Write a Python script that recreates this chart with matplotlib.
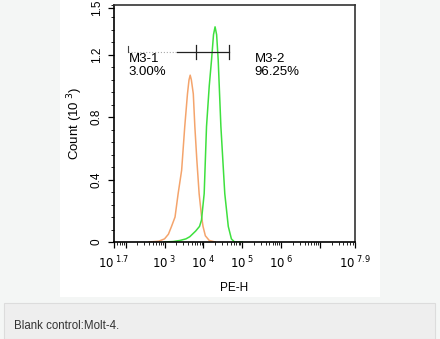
import numpy as np
import matplotlib.pyplot as plt
from matplotlib.patches import Rectangle
from matplotlib.ticker import MultipleLocator, LogLocator, NullFormatter

plt.rcParams['font.family'] = ['Liberation Sans', 'DejaVu Sans']

# histogram outlines (log10 of PE-H, count in 10^3)
blank_log = [2.6, 2.85, 3.0, 3.1, 3.18, 3.27, 3.35, 3.44, 3.52, 3.59, 3.63, 3.66,
             3.69, 3.74, 3.78, 3.83, 3.89, 3.95, 3.99, 4.05, 4.15, 4.3]
blank_count = [0, 0.005, 0.02, 0.05, 0.1, 0.16, 0.31, 0.46, 0.74, 0.95, 1.04, 1.07,
               1.04, 0.95, 0.74, 0.53, 0.31, 0.17, 0.1, 0.04, 0.01, 0]

stain_log = [3.0, 3.22, 3.4, 3.55, 3.65, 3.8, 3.9, 3.95, 4.02, 4.08, 4.15, 4.21,
             4.26, 4.30, 4.34, 4.38, 4.45, 4.55, 4.64, 4.72, 4.8, 5.0]
stain_count = [0, 0.003, 0.01, 0.02, 0.034, 0.07, 0.1, 0.14, 0.31, 0.74, 1.0, 1.17,
               1.33, 1.38, 1.33, 1.17, 0.74, 0.31, 0.1, 0.02, 0, 0]

# gate markers (log10 positions) and their labels
gate_left, gate_mid, gate_right = 2.06, 3.81, 4.66
gate_y = 1.22
gate_names = ['M3-1', 'M3-2']
gate_pcts = ['3.00%', '96.25%']

xtick_exp = [1.7, 2, 3, 4, 5, 6, 7, 7.9]
xtick_lbl = ['$10^{\\ 1.7}$', '', '$10^{\\ 3}$', '$10^{\\ 4}$', '$10^{\\ 5}$',
             '$10^{\\ 6}$', '', '$10^{\\ 7.9}$']
ytick_vals = [0, 0.4, 0.8, 1.2, 1.5]
ytick_lbl = ['0', '0.4', '0.8', '1.2', '1.5']

W, H = 440, 339
fig = plt.figure(figsize=(W / 100, H / 100), dpi=100, facecolor='#f4f6f5')

# white panel and caption strip
fig.patches.append(Rectangle((60 / W, 1 - 297 / H), 320 / W, 297 / H,
                             transform=fig.transFigure, facecolor='white',
                             edgecolor='none', zorder=-5))
fig.patches.append(Rectangle((4 / W, 0), 431 / W, 1 - 303 / H,
                             transform=fig.transFigure, facecolor='#eeeeee',
                             edgecolor='#dcdcdc', linewidth=0.8, zorder=-5))
fig.text(14 / W, 1 - 326 / H, 'Blank control:Molt-4.', fontsize=8.3,
         color='#333333', va='center', ha='left')

ax = fig.add_axes([114 / W, 1 - 242 / H, 241 / W, 237 / H])
ax.set_xscale('log')

ax.plot(10 ** np.array(blank_log), blank_count, color='#f4a46c', lw=1.1)
ax.plot(10 ** np.array(stain_log), stain_count, color='#3ee03e', lw=1.1)

ax.set_xlim(10 ** 1.7, 10 ** 7.9)
ax.set_ylim(0, 1.52)

# gate lines
ax.plot([10 ** gate_left, 10 ** 3.31], [gate_y, gate_y], color='#aaaaaa', lw=0.8, ls=':')
ax.plot([10 ** 3.31, 10 ** gate_right], [gate_y, gate_y], color='#222222', lw=0.9)
for g in [gate_mid, gate_right]:
    ax.plot([10 ** g, 10 ** g], [gate_y - 0.045, gate_y + 0.045], color='#222222', lw=0.9)
ax.plot([10 ** gate_left, 10 ** gate_left], [gate_y, gate_y + 0.04], color='#444444', lw=0.8)

ax.text(10 ** 2.08, 1.215, gate_names[0] + '\n' + gate_pcts[0], fontsize=9.5,
        va='top', ha='left', linespacing=1.15)
ax.text(10 ** 5.32, 1.215, gate_names[1] + '\n' + gate_pcts[1], fontsize=9.5,
        va='top', ha='left', linespacing=1.15)

ax.set_xticks([10 ** e for e in xtick_exp])
ax.set_xticklabels(xtick_lbl, fontsize=8.5)
ax.xaxis.set_minor_locator(LogLocator(base=10, subs=np.arange(2, 10), numticks=20))
ax.xaxis.set_minor_formatter(NullFormatter())

ax.set_yticks(ytick_vals)
ax.set_yticklabels(ytick_lbl, fontsize=8.5, rotation=90, va='center')
ax.yaxis.set_minor_locator(MultipleLocator(0.08))

ax.tick_params(which='major', direction='out', length=4, width=0.9)
ax.tick_params(axis='x', which='major', pad=5)
ax.tick_params(axis='y', which='major', pad=4)
ax.tick_params(which='minor', direction='out', length=2, width=0.6)
ax.tick_params(top=False, right=False, which='both')

for side in ['left', 'bottom']:
    ax.spines[side].set_linewidth(1.2)
for side in ['top', 'right']:
    ax.spines[side].set_linewidth(1.2)
    ax.spines[side].set_color('#333333')

ax.set_xlabel('PE-H', fontsize=8.5, labelpad=8)
ax.set_ylabel('Count (10$^{\\ 3}$)', fontsize=9.5, labelpad=4)

fig.savefig('out.png', dpi=100, facecolor=fig.get_facecolor())
